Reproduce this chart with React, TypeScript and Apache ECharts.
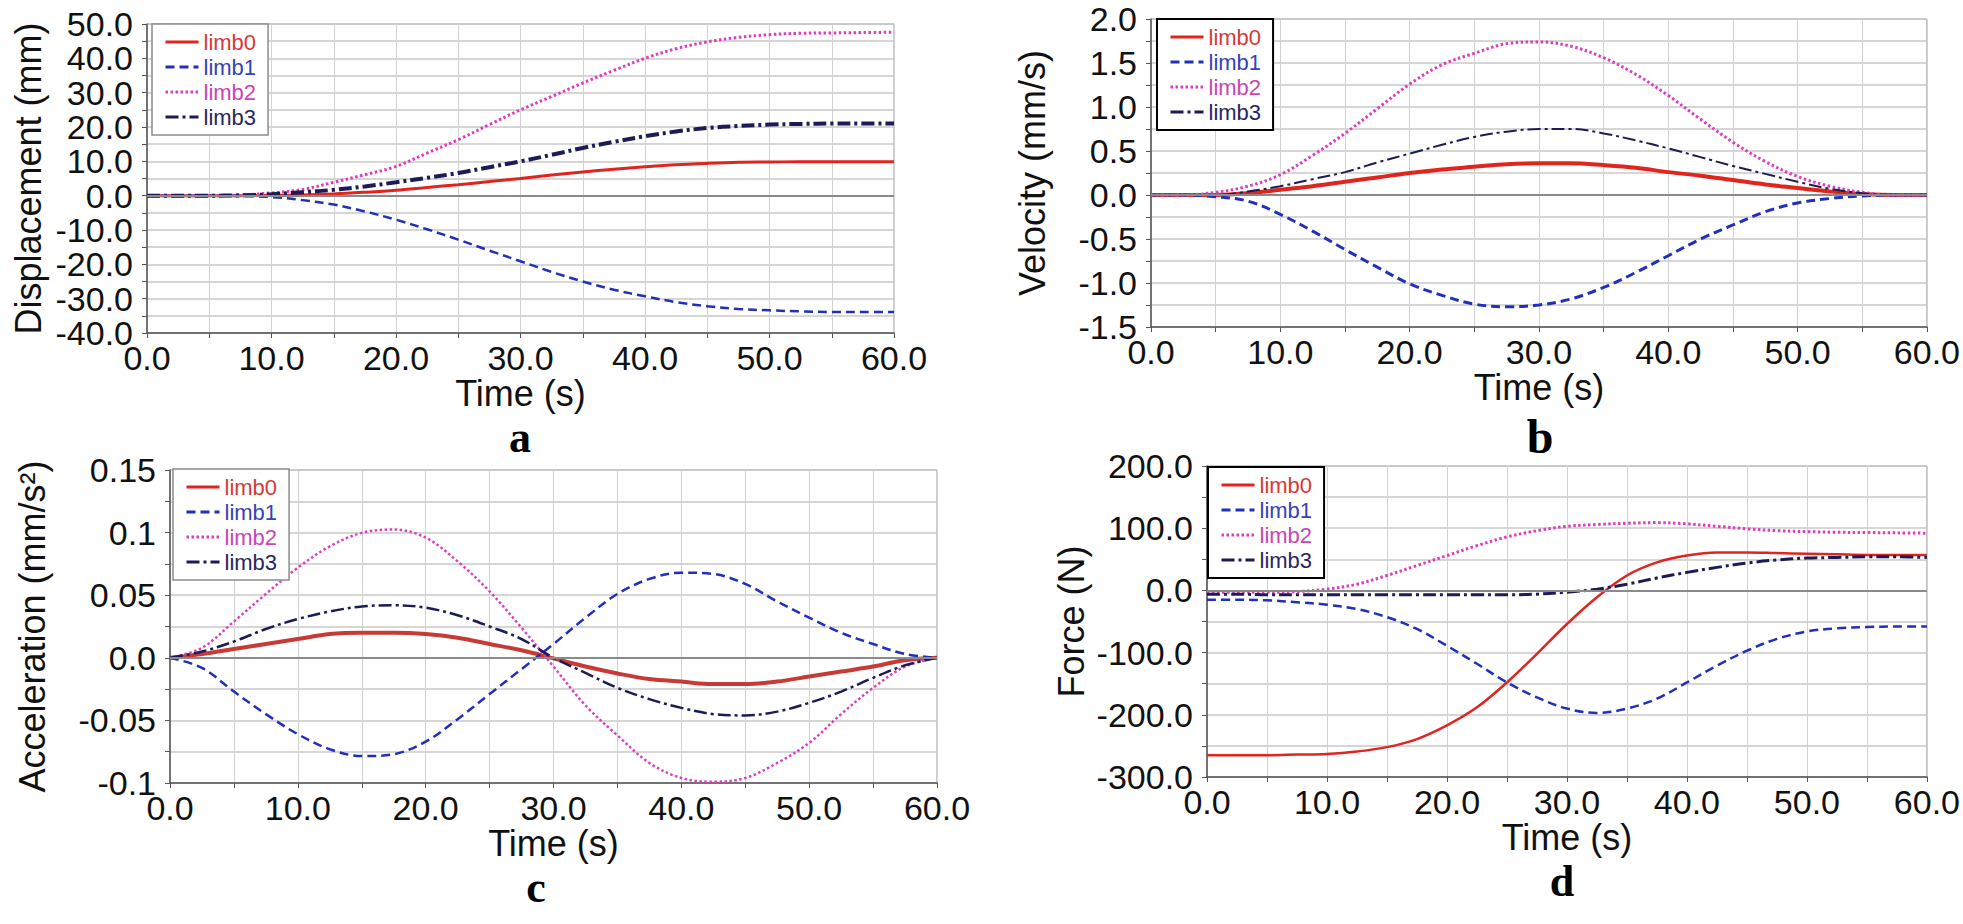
import React, { useEffect, useRef } from "react";
import * as echarts from "echarts";

// ---------- data ----------
const time = [0, 2.5, 5, 7.5, 10, 12.5, 15, 17.5, 20, 22.5, 25, 27.5, 30, 32.5, 35, 37.5, 40, 42.5, 45, 47.5, 50, 52.5, 55, 57.5, 60];

const seriesNames = ["limb0", "limb1", "limb2", "limb3"];

// a: displacement (mm)
const dispLimb0 = [0, 0, 0, 0, 0.1, 0.2, 0.5, 1.0, 1.6, 2.4, 3.2, 4.1, 5.0, 6.0, 6.9, 7.7, 8.4, 9.0, 9.4, 9.7, 9.8, 9.9, 9.9, 9.9, 9.9];
const dispLimb1 = [0, 0, 0, -0.1, -0.4, -1.3, -2.6, -4.6, -7.0, -9.8, -12.8, -16.0, -19.1, -22.2, -25.0, -27.4, -29.3, -31.0, -32.2, -33.0, -33.4, -33.7, -33.9, -33.9, -33.9];
const dispLimb2 = [0, 0, 0, 0.2, 0.8, 1.8, 3.9, 6.1, 8.5, 12.4, 16.3, 20.7, 25.0, 28.9, 32.8, 36.5, 40.0, 42.8, 44.8, 46.1, 46.9, 47.3, 47.4, 47.5, 47.6];
const dispLimb3 = [0, 0, 0, 0.1, 0.4, 1.0, 1.7, 2.7, 3.9, 5.2, 6.6, 8.3, 10.0, 11.9, 13.9, 15.7, 17.3, 18.7, 19.7, 20.3, 20.7, 20.9, 21.0, 21.0, 21.0];

// b: velocity (mm/s)
const velLimb0 = [0, 0, 0, 0.02, 0.06, 0.10, 0.15, 0.20, 0.25, 0.29, 0.32, 0.35, 0.36, 0.36, 0.34, 0.31, 0.26, 0.22, 0.17, 0.12, 0.08, 0.04, 0.01, 0, 0];
const velLimb1 = [0, 0, -0.02, -0.07, -0.22, -0.41, -0.62, -0.82, -1.01, -1.14, -1.24, -1.27, -1.25, -1.18, -1.05, -0.88, -0.69, -0.50, -0.34, -0.19, -0.09, -0.04, -0.01, 0, 0];
const velLimb2 = [0, 0, 0.03, 0.10, 0.23, 0.45, 0.70, 0.98, 1.26, 1.48, 1.61, 1.72, 1.74, 1.69, 1.56, 1.37, 1.13, 0.86, 0.60, 0.38, 0.21, 0.10, 0.03, 0, 0];
const velLimb3 = [0, 0, 0, 0.04, 0.10, 0.18, 0.26, 0.37, 0.47, 0.57, 0.66, 0.72, 0.75, 0.75, 0.70, 0.62, 0.53, 0.43, 0.33, 0.24, 0.15, 0.07, 0.02, 0, 0];

// c: acceleration (mm/s^2)
const accLimb0 = [0, 0.003, 0.007, 0.011, 0.015, 0.019, 0.020, 0.020, 0.019, 0.016, 0.011, 0.006, -0.0005, -0.007, -0.0125, -0.017, -0.019, -0.021, -0.021, -0.019, -0.015, -0.011, -0.007, -0.002, 0];
const accLimb1 = [0, -0.008, -0.027, -0.045, -0.061, -0.073, -0.0785, -0.077, -0.067, -0.049, -0.029, -0.009, 0.011, 0.032, 0.051, 0.063, 0.068, 0.067, 0.059, 0.045, 0.032, 0.020, 0.011, 0.003, 0];
const accLimb2 = [0, 0.008, 0.029, 0.051, 0.072, 0.089, 0.0998, 0.1025, 0.096, 0.077, 0.053, 0.024, -0.007, -0.038, -0.062, -0.084, -0.096, -0.099, -0.096, -0.084, -0.068, -0.045, -0.024, -0.007, 0];
const accLimb3 = [0, 0.005, 0.013, 0.023, 0.031, 0.037, 0.041, 0.042, 0.040, 0.034, 0.025, 0.015, 0, -0.012, -0.024, -0.033, -0.040, -0.045, -0.046, -0.043, -0.036, -0.027, -0.016, -0.006, 0];

// d: force (N)
const forceLimb0 = [-265, -265, -265, -264, -263, -259, -252, -239, -217, -188, -148, -102, -54, -11, 24, 45, 56, 61, 61, 60, 59, 58, 57, 57, 57];
const forceLimb1 = [-15, -15, -16, -19, -23, -30, -43, -62, -89, -118, -148, -172, -190, -197, -190, -174, -148, -121, -97, -78, -66, -61, -59, -58, -58];
const forceLimb2 = [-3, -3, -3, -2, 2, 10, 24, 40, 56, 72, 86, 96, 103, 106, 108, 109, 107, 103, 99, 96, 94.5, 93.5, 93, 92.5, 92];
const forceLimb3 = [-6, -6, -7, -7, -7, -7, -7, -7, -7, -7, -7, -6, -3, 2, 10, 20, 29, 37, 44, 49, 52, 53, 54, 54, 53];

// tick labels
const timeTickLabels = ["0.0", "10.0", "20.0", "30.0", "40.0", "50.0", "60.0"];
const dispTickLabels = ["-40.0", "-30.0", "-20.0", "-10.0", "0.0", "10.0", "20.0", "30.0", "40.0", "50.0"];
const velTickLabels = ["-1.5", "-1.0", "-0.5", "0.0", "0.5", "1.0", "1.5", "2.0"];
const accTickLabels = ["-0.1", "-0.05", "0.0", "0.05", "0.1", "0.15"];
const forceTickLabels = ["-300.0", "-200.0", "-100.0", "0.0", "100.0", "200.0"];

const panelLetters = ["a", "b", "c", "d"];
const yTitles = ["Displacement (mm)", "Velocity (mm/s)", "Acceleration (mm/s²)", "Force (N)"];

// ---------- styling ----------
const LINE_COLORS = ["#e0241e", "#2030b8", "#dd3cc0", "#1b1b55"];
const TEXT_COLORS = ["#d43a36", "#3442b8", "#c845b4", "#262660"];
const DASHES: any[] = ["solid", [9, 5], [2.5, 2.5], [13, 4, 3, 4]];
const FONT = "Liberation Sans";

const panels = [
  {
    data: [dispLimb0, dispLimb1, dispLimb2, dispLimb3],
    ticks: dispTickLabels, min: -40, max: 50, interval: 10,
    grid: { left: 147, top: 24, width: 747, height: 309 },
    legend: { left: 152, top: 24, border: "#8c8c8c", bw: 1.5 },
    widths: [3, 2.5, 3, 4], nameGap: 101, timeGap: 44,
    letter: { x: 520, y: 437, size: 44 },
    colors: LINE_COLORS,
  },
  {
    data: [velLimb0, velLimb1, velLimb2, velLimb3],
    ticks: velTickLabels, min: -1.5, max: 2.0, interval: 0.5,
    grid: { left: 1151, top: 19, width: 776, height: 308 },
    legend: { left: 1157, top: 19, border: "#000", bw: 2 },
    widths: [4, 3, 3, 2], nameGap: 101, timeGap: 44,
    letter: { x: 1540, y: 436, size: 48 },
    colors: LINE_COLORS,
  },
  {
    data: [accLimb0, accLimb1, accLimb2, accLimb3],
    ticks: accTickLabels, min: -0.1, max: 0.15, interval: 0.05,
    grid: { left: 170, top: 470, width: 767, height: 313 },
    legend: { left: 173, top: 469, border: "#8c8c8c", bw: 1.5 },
    widths: [4, 2.5, 2.5, 2.5], nameGap: 120, timeGap: 39,
    letter: { x: 536, y: 887, size: 44 },
    colors: ["#c83a36", "#2030b8", "#dd3cc0", "#1b1b55"],
  },
  {
    data: [forceLimb0, forceLimb1, forceLimb2, forceLimb3],
    ticks: forceTickLabels, min: -300, max: 200, interval: 100,
    grid: { left: 1207, top: 466, width: 721, height: 311 },
    legend: { left: 1208, top: 467, border: "#000", bw: 2 },
    widths: [2.5, 2.5, 3, 3], nameGap: 118, timeGap: 42,
    letter: { x: 1562, y: 881, size: 44 },
    colors: LINE_COLORS,
  },
];

function labelFrom(labels: string[], min: number, interval: number) {
  return (v: number) => {
    const i = Math.round((v - min) / interval);
    return labels[i] !== undefined ? labels[i] : "";
  };
}

function buildOption() {
  const grid: any[] = [];
  const xAxis: any[] = [];
  const yAxis: any[] = [];
  const series: any[] = [];
  const legend: any[] = [];
  const graphic: any[] = [];

  panels.forEach((p, i) => {
    grid.push({ ...p.grid, show: true, borderColor: "#9a9a9a", borderWidth: 1, backgroundColor: "#fff", containLabel: false });
    xAxis.push({
      type: "value", gridIndex: i, min: 0, max: 60, interval: 10,
      name: "Time (s)", nameLocation: "middle", nameGap: p.timeGap,
      nameTextStyle: { fontFamily: FONT, fontSize: 36, lineHeight: 30, color: "#111" },
      axisLine: { show: true, onZero: false, lineStyle: { color: "#555", width: 1.5 } },
      axisTick: { show: true, length: 5, lineStyle: { color: "#555", width: 1 } },
      minorTick: { show: true, splitNumber: 2, length: 5, lineStyle: { color: "#555", width: 1 } },
      axisLabel: { fontFamily: FONT, fontSize: 34, lineHeight: 30, color: "#111", margin: 10, showMinLabel: true, showMaxLabel: true, formatter: labelFrom(timeTickLabels, 0, 10) },
      splitLine: { show: true, lineStyle: { color: "#d2d2d2", width: 1 } },
      minorSplitLine: { show: true, lineStyle: { color: "#d2d2d2", width: 1 } },
    });
    yAxis.push({
      type: "value", gridIndex: i, min: p.min, max: p.max, interval: p.interval,
      name: yTitles[i], nameLocation: "middle", nameGap: p.nameGap, nameRotate: 90,
      nameTextStyle: { fontFamily: FONT, fontSize: 36, color: "#111" },
      axisLine: { show: true, onZero: false, lineStyle: { color: "#555", width: 1.5 } },
      axisTick: { show: true, length: 5, lineStyle: { color: "#555", width: 1 } },
      minorTick: { show: true, splitNumber: 2, length: 5, lineStyle: { color: "#555", width: 1 } },
      axisLabel: { fontFamily: FONT, fontSize: 34, lineHeight: 28, color: "#111", margin: 14, showMinLabel: true, showMaxLabel: true, formatter: labelFrom(p.ticks, p.min, p.interval) },
      splitLine: { show: true, lineStyle: { color: "#c8c8c8", width: 1.5 } },
      minorSplitLine: { show: true, lineStyle: { color: "#c8c8c8", width: 1.5 } },
    });
    // zero line
    series.push({
      type: "line", name: "zero" + i, xAxisIndex: i, yAxisIndex: i, data: [], silent: true, z: 1,
      markLine: { silent: true, symbol: "none", label: { show: false }, lineStyle: { color: "#8a8a8a", width: 2, type: "solid" }, data: [{ yAxis: 0 }] },
    });
    p.data.forEach((vals, k) => {
      series.push({
        type: "line", name: seriesNames[k], xAxisIndex: i, yAxisIndex: i,
        data: time.map((t, j) => [t, vals[j]]),
        showSymbol: false, symbol: "none", smooth: 0.35, z: 3,
        lineStyle: { color: p.colors[k], width: p.widths[k], type: DASHES[k], cap: "butt" },
        itemStyle: { color: p.colors[k] },
      });
    });
    legend.push({
      left: p.legend.left, top: p.legend.top, orient: "vertical",
      itemWidth: 33, itemHeight: 14, itemGap: 3, padding: [7, 12, 7, 12],
      borderColor: p.legend.border, borderWidth: p.legend.bw, backgroundColor: "#fff",
      selectedMode: false,
      itemStyle: { opacity: 0 },
      lineStyle: { width: 3 },
      textStyle: { fontFamily: FONT, fontSize: 22 },
      data: seriesNames.map((n, k) => ({ name: n, textStyle: { color: TEXT_COLORS[k] } })),
    });
    graphic.push({
      type: "text", x: p.letter.x, y: p.letter.y,
      style: { text: panelLetters[i], fontFamily: "Liberation Serif", fontWeight: "bold", fontSize: p.letter.size, lineHeight: 26, fill: "#000", textAlign: "center", textVerticalAlign: "middle" },
    });
  });

  return { animation: false, backgroundColor: "#fff", grid, xAxis, yAxis, series, legend, graphic };
}

export default function App() {
  const ref = useRef<HTMLDivElement>(null);
  useEffect(() => {
    if (!ref.current) return;
    const chart = echarts.init(ref.current, undefined, { renderer: "svg" });
    chart.setOption(buildOption() as any);
    return () => chart.dispose();
  }, []);
  return <div ref={ref} style={{ position: "absolute", left: 0, top: 0, width: 1963, height: 924, background: "#fff" }} />;
}
